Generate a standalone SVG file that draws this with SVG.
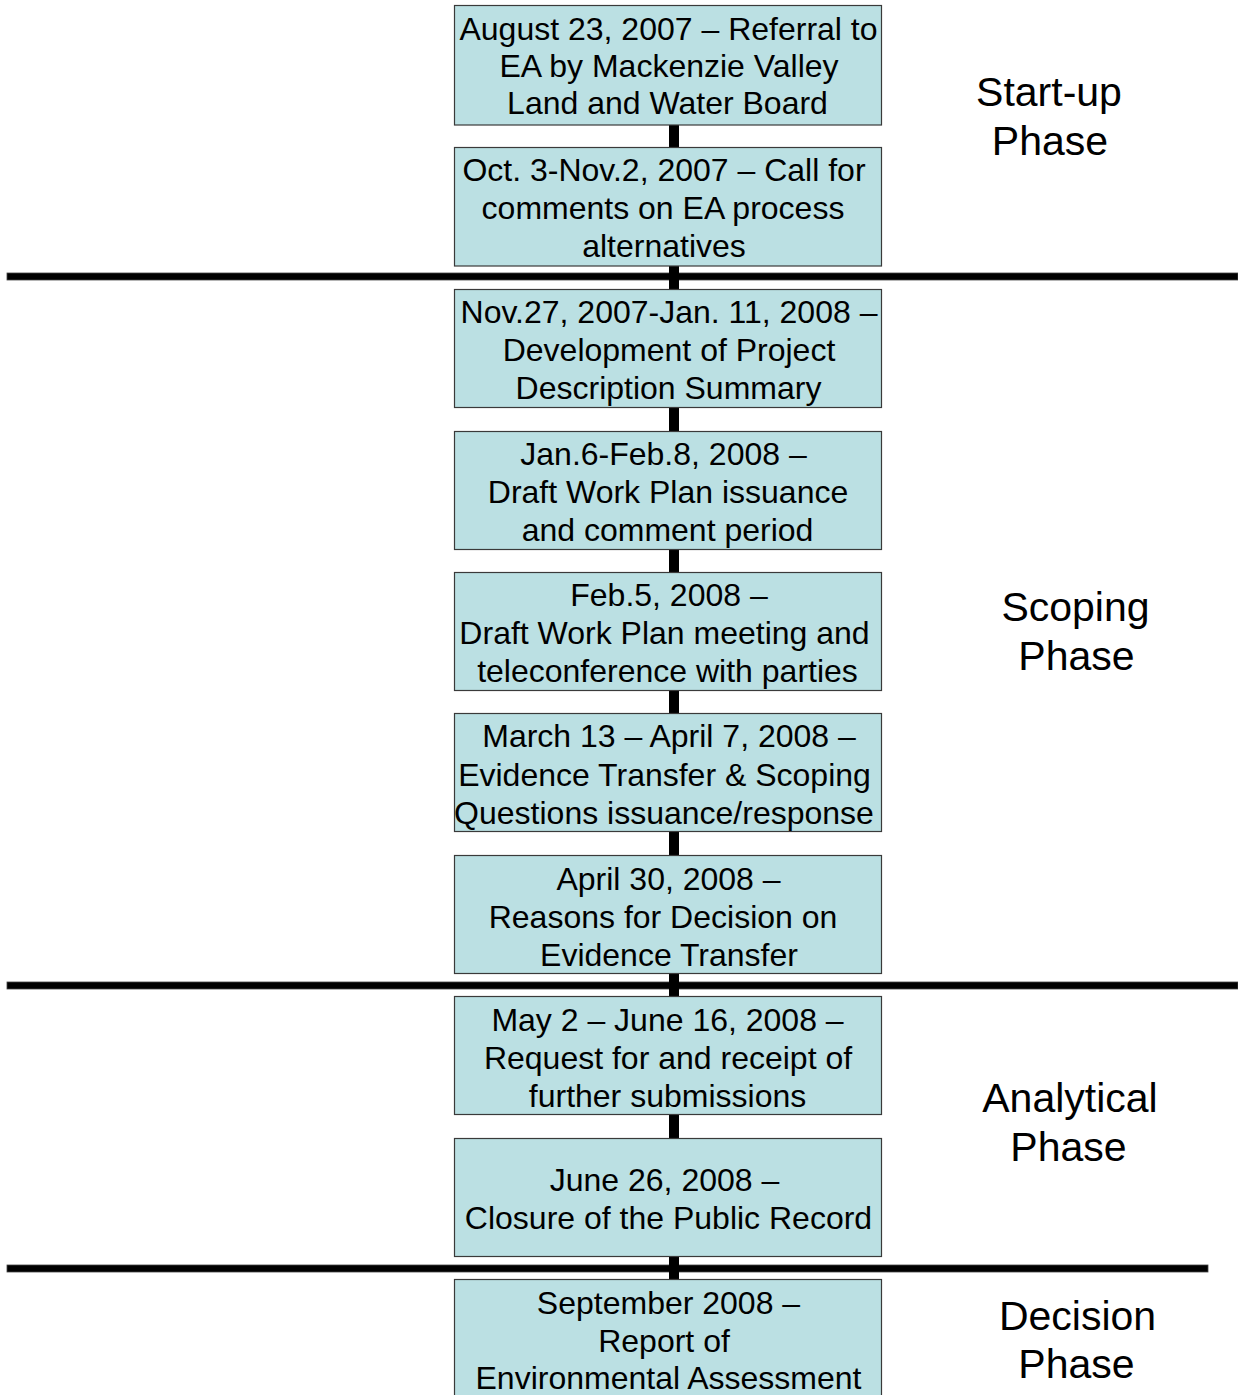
<svg xmlns="http://www.w3.org/2000/svg" width="1238" height="1395" viewBox="0 0 1238 1395">
<style>
.box{fill:#BBE0E3;stroke:#3a3a3a;stroke-width:1.2}
.t{font-family:"Liberation Sans",Arial,sans-serif;font-size:32px;fill:#000;text-anchor:middle}
.p{font-family:"Liberation Sans",Arial,sans-serif;font-size:41px;fill:#000;text-anchor:middle}
.conn{fill:#000}
.div{fill:#000;stroke:#444;stroke-width:0.8}
</style>
<rect width="1238" height="1395" fill="#fff"/>
<g id="connectors">
<rect class="conn" x="669" y="125" width="10" height="22"/>
<rect class="conn" x="669" y="266" width="10" height="23"/>
<rect class="conn" x="669" y="407" width="10" height="24"/>
<rect class="conn" x="669" y="549" width="10" height="23"/>
<rect class="conn" x="669" y="690" width="10" height="23"/>
<rect class="conn" x="669" y="831" width="10" height="24"/>
<rect class="conn" x="669" y="973" width="10" height="23"/>
<rect class="conn" x="669" y="1114" width="10" height="24"/>
<rect class="conn" x="669" y="1256" width="10" height="23"/>
</g>
<g id="dividers">
<rect class="div" x="7" y="273" width="1231" height="7"/>
<rect class="div" x="7" y="982" width="1231" height="7"/>
<rect class="div" x="7" y="1265" width="1201" height="7"/>
</g>
<g id="connectors-over">
<rect class="conn" x="669" y="266" width="10" height="23"/>
<rect class="conn" x="669" y="973" width="10" height="23"/>
<rect class="conn" x="669" y="1256" width="10" height="23"/>
</g>
<g id="n1"><rect class="box" x="454.5" y="5.5" width="427" height="119.5"/>
<text class="t" x="668.5" y="40">August 23, 2007 – Referral to</text>
<text class="t" x="669" y="77">EA by Mackenzie Valley</text>
<text class="t" x="667.5" y="114">Land and Water Board</text></g>
<g id="n2"><rect class="box" x="454.5" y="147.5" width="427" height="118.5"/>
<text class="t" x="664" y="181">Oct. 3-Nov.2, 2007 – Call for</text>
<text class="t" x="663" y="219">comments on EA process</text>
<text class="t" x="664" y="257">alternatives</text></g>
<g id="n3"><rect class="box" x="454.5" y="289.5" width="427" height="118"/>
<text class="t" x="669" y="323">Nov.27, 2007-Jan. 11, 2008 –</text>
<text class="t" x="669" y="361">Development of Project</text>
<text class="t" x="668.5" y="399">Description Summary</text></g>
<g id="n4"><rect class="box" x="454.5" y="431.5" width="427" height="118"/>
<text class="t" x="663.5" y="465">Jan.6-Feb.8, 2008 –</text>
<text class="t" x="668" y="503">Draft Work Plan issuance</text>
<text class="t" x="667.5" y="541">and comment period</text></g>
<g id="n5"><rect class="box" x="454.5" y="572.5" width="427" height="118"/>
<text class="t" x="669" y="606">Feb.5, 2008 –</text>
<text class="t" x="664.5" y="644">Draft Work Plan meeting and</text>
<text class="t" x="667.5" y="682">teleconference with parties</text></g>
<g id="n6"><rect class="box" x="454.5" y="713.5" width="427" height="118"/>
<text class="t" x="669" y="747">March 13 – April 7, 2008 –</text>
<text class="t" x="664.5" y="786">Evidence Transfer &amp; Scoping</text>
<text class="t" x="664" y="824">Questions issuance/response</text></g>
<g id="n7"><rect class="box" x="454.5" y="855.5" width="427" height="118"/>
<text class="t" x="668.5" y="890">April 30, 2008 –</text>
<text class="t" x="663" y="928">Reasons for Decision on</text>
<text class="t" x="669" y="966">Evidence Transfer</text></g>
<g id="n8"><rect class="box" x="454.5" y="996.5" width="427" height="118"/>
<text class="t" x="667.5" y="1031">May 2 – June 16, 2008 –</text>
<text class="t" x="668" y="1069">Request for and receipt of</text>
<text class="t" x="667.5" y="1107">further submissions</text></g>
<g id="n9"><rect class="box" x="454.5" y="1138.5" width="427" height="118"/>
<text class="t" x="664.5" y="1191">June 26, 2008 –</text>
<text class="t" x="668.5" y="1229">Closure of the Public Record</text></g>
<g id="n10"><rect class="box" x="454.5" y="1279.5" width="427" height="125"/>
<text class="t" x="668.5" y="1314">September 2008 –</text>
<text class="t" x="664" y="1352">Report of</text>
<text class="t" x="668.5" y="1389">Environmental Assessment</text></g>
<g id="phase-startup">
<text class="p" x="1049" y="106">Start-up</text>
<text class="p" x="1050" y="155">Phase</text></g>
<g id="phase-scoping">
<text class="p" x="1075.5" y="621">Scoping</text>
<text class="p" x="1076.5" y="670">Phase</text></g>
<g id="phase-analytical">
<text class="p" x="1070" y="1112">Analytical</text>
<text class="p" x="1068.5" y="1161">Phase</text></g>
<g id="phase-decision">
<text class="p" x="1077.5" y="1330">Decision</text>
<text class="p" x="1076.5" y="1378">Phase</text></g>
</svg>
